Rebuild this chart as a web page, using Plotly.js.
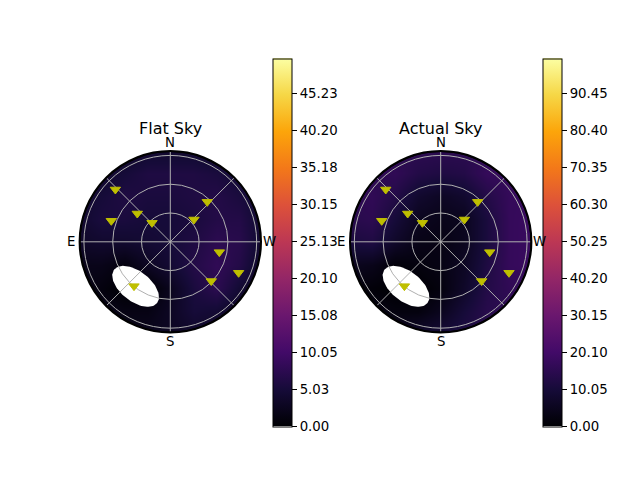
<!DOCTYPE html>
<html><head><meta charset="utf-8">
<script src="https://cdn.plot.ly/plotly-3.0.1.min.js"></script>
<style>html,body{margin:0;padding:0;background:#fff}</style>
</head><body><div id="chart" style="width:640px;height:480px"></div>
<script>
// ---------------- data ----------------
const panelTitles = ['Flat Sky', 'Actual Sky'];
const compassLabels = ['N', 'E', 'S', 'W'];
const compassAngles = [0, 90, 180, 270];
const gridAngles = [0, 45, 90, 135, 180, 225, 270, 315];
const zenithGrid = [20, 40, 60];
const zenithMax = 63;

// sky brightness sampled on a coarse grid (x: west positive, y: north positive), rows top -> bottom
const gridX = [-64, -48, -32, -16, 0, 16, 32, 48, 64];
const gridY = [64, 48, 32, 16, 0, -16, -32, -48, -64];
const flatSky = [
  [3, 3, 3, 4, 4, 4, 3, 3, 3],
  [3, 4, 5, 6, 6, 6, 5.5, 4.5, 3],
  [4, 5, 6, 5.5, 5.5, 6, 6.5, 5.5, 4],
  [4, 5.5, 5.5, 5, 5, 5.5, 6.5, 6.5, 4],
  [3.5, 4, 4, 4.5, 5, 6, 7.5, 7, 4],
  [2, 2, 1, 3, 4.5, 6.5, 8, 6.5, 3],
  [2, 1, 0, 0, 2.5, 5.5, 7.5, 4.5, 2],
  [2, 2, 1.5, 1.5, 3, 5, 4.5, 3, 2],
  [2, 2, 2, 2.5, 3, 3.5, 3, 2, 2]
];
const actualSky = [
  [12, 13, 14, 15, 15, 15, 15, 14, 13],
  [14, 15, 16, 13, 12, 13, 17, 17, 16],
  [15, 16, 13, 8, 6, 8, 13, 17, 17],
  [14, 15, 10, 5, 4, 5, 11, 17, 18],
  [11, 12, 7, 3.5, 3, 5, 11, 17, 18],
  [5, 4, 1, 2, 3, 6, 12, 17, 18],
  [2, 1, 0, 0, 2, 7, 13, 16, 16],
  [3, 3, 2, 2, 5, 10, 14, 15, 14],
  [5, 5, 6, 8, 10, 12, 13, 13, 12]
];
const flatMax = 50;
const actualMax = 100;
const flatTicks = [0, 5.03, 10.05, 15.08, 20.10, 25.13, 30.15, 35.18, 40.20, 45.23];
const flatTickText = ['0.00', '5.03', '10.05', '15.08', '20.10', '25.13', '30.15', '35.18', '40.20', '45.23'];
const actualTicks = [0, 10.05, 20.10, 30.15, 40.20, 50.25, 60.30, 70.35, 80.40, 90.45];
const actualTickText = ['0.00', '10.05', '20.10', '30.15', '40.20', '50.25', '60.30', '70.35', '80.40', '90.45'];

// targets (azimuth deg from N through E, zenith distance deg)
const starAz = [46.4, 70.4, 49.4, 43.9, 313.3, 317.2, 258.1, 245.6, 226.2, 140.7];
const starZen = [52.7, 43.5, 30.2, 18.3, 22.6, 37.8, 34.8, 52.1, 39.4, 39.8];

// masked region (moon avoidance), in sky coordinates
const maskAz = 142.1;
const maskZen = 39.2;
const maskTangentialHalf = 18.9;
const maskRadialHalf = 10.4;

// inferno colour map
const inferno = [
  [0.0, '#000004'], [0.1, '#160b39'], [0.2, '#420a68'], [0.3, '#6a176e'],
  [0.4, '#932667'], [0.5, '#bc3754'], [0.6, '#dd513a'], [0.7, '#f37819'],
  [0.8, '#fca50a'], [0.9, '#f6d746'], [1.0, '#fcffa4']
];

// ---------------- layout geometry ----------------
const W = 640, H = 480;
const centersPx = [[170.3, 241.8], [440.7, 241.8]];
const radiusPx = 90.7;
const cbLeftPx = [272.7, 542.7];
const cbTopPx = 58.3, cbBottomPx = 426.7;
const FONT = 'DejaVu Sans, sans-serif';
// compass label offsets from disk centre (px): N, E, S, W
const compassOffsets = [[0, -99.4], [-99.3, 0.1], [0, 99.2], [99, 0.1]];

function toXY(az, zen) {
  const a = az * Math.PI / 180;
  return [-zen * Math.sin(a), zen * Math.cos(a)];
}

function maskOutline() {
  const [cx, cy] = toXY(maskAz, maskZen);
  const rlen = Math.hypot(cx, cy);
  const ux = cx / rlen, uy = cy / rlen;          // radial unit
  const tx = -uy, ty = ux;                        // tangential unit
  const xs = [], ys = [];
  for (let i = 0; i <= 96; i++) {
    const t = i / 96 * 2 * Math.PI;
    const p = maskTangentialHalf * Math.cos(t), q = maskRadialHalf * Math.sin(t);
    xs.push(cx + p * tx + q * ux);
    ys.push(cy + p * ty + q * uy);
  }
  return [xs, ys];
}

// white frame around the disk, in paper coordinates
function ringMaskPath(cxp, cyp, rPx, extPx) {
  const px = v => (v / W).toFixed(6);
  const py = v => ((H - v) / H).toFixed(6);
  const s = rPx + extPx, k = 0.5523 * rPx, r = rPx;
  const P = (dx, dy) => `${px(cxp + dx)},${py(cyp + dy)}`;
  return `M ${P(-s, -s)} L ${P(s, -s)} L ${P(s, s)} L ${P(-s, s)} Z ` +
    `M ${P(r, 0)} C ${P(r, k)} ${P(k, r)} ${P(0, r)} C ${P(-k, r)} ${P(-r, k)} ${P(-r, 0)} ` +
    `C ${P(-r, -k)} ${P(-k, -r)} ${P(0, -r)} C ${P(k, -r)} ${P(r, -k)} ${P(r, 0)} Z`;
}

const yAsc = gridY.slice().reverse();
const skies = [flatSky, actualSky];
const maxes = [flatMax, actualMax];
const tickSets = [[flatTicks, flatTickText], [actualTicks, actualTickText]];
const [mx, my] = maskOutline();

const traces = [];
const layout = {
  width: W, height: H,
  margin: {l: 0, r: 0, t: 0, b: 0},
  paper_bgcolor: '#fff', plot_bgcolor: 'rgba(0,0,0,0)',
  showlegend: false,
  font: {family: FONT, size: 13.3, color: '#000'},
  shapes: [], annotations: []
};

for (let p = 0; p < 2; p++) {
  const sfx = p === 0 ? '' : '2';
  const [cxp, cyp] = centersPx[p];
  const dx = [(cxp - radiusPx) / W, (cxp + radiusPx) / W];
  const dy = [(H - cyp - radiusPx) / H, (H - cyp + radiusPx) / H];
  const z = skies[p].slice().reverse();
  traces.push({
    type: 'heatmap', x: gridX, y: yAsc, z: z, zsmooth: 'best',
    xaxis: 'x' + sfx, yaxis: 'y' + sfx,
    colorscale: inferno, zmin: 0, zmax: maxes[p], hoverinfo: 'skip',
    colorbar: {
      x: cbLeftPx[p] / W, xanchor: 'left', xpad: 0, ypad: 0,
      y: (H - (cbTopPx + cbBottomPx) / 2) / H, yanchor: 'middle',
      len: cbBottomPx - cbTopPx, lenmode: 'pixels',
      thickness: 19, thicknessmode: 'pixels',
      outlinecolor: '#000', outlinewidth: 1,
      ticks: 'outside', ticklen: 5, tickwidth: 1, tickcolor: '#000',
      tickmode: 'array', tickvals: tickSets[p][0], ticktext: tickSets[p][1],
      tickfont: {family: FONT, size: 13.3, color: '#000'}
    }
  });
  traces.push({
    type: 'scatter', x: mx, y: my, mode: 'lines', fill: 'toself',
    fillcolor: '#ffffff', line: {width: 0, color: '#ffffff'},
    xaxis: 'x' + sfx, yaxis: 'y' + sfx, hoverinfo: 'skip'
  });
  traces.push({
    type: 'scatterpolar', subplot: 'polar' + sfx,
    r: starZen, theta: starAz, mode: 'markers',
    marker: {symbol: 'triangle-down', size: 9, color: '#bfbf00', line: {width: 1, color: '#bfbf00'}},
    hoverinfo: 'skip'
  });
  layout['xaxis' + sfx] = {domain: dx, range: [-zenithMax, zenithMax], visible: false, fixedrange: true, anchor: 'y' + sfx};
  layout['yaxis' + sfx] = {domain: dy, range: [-zenithMax, zenithMax], visible: false, fixedrange: true, anchor: 'x' + sfx};
  layout['polar' + sfx] = {
    domain: {x: dx, y: dy},
    bgcolor: 'rgba(0,0,0,0)',
    angularaxis: {
      rotation: 90, direction: 'counterclockwise',
      tickmode: 'array', tickvals: gridAngles, showticklabels: false,
      ticks: '', showline: true, linecolor: '#000', linewidth: 2,
      gridcolor: '#b0b0b0', gridwidth: 1
    },
    radialaxis: {
      range: [0, zenithMax], tickmode: 'array', tickvals: zenithGrid,
      showticklabels: false, ticks: '', showline: false,
      gridcolor: '#b0b0b0', gridwidth: 1
    }
  };
  layout.shapes.push({
    type: 'path', xref: 'paper', yref: 'paper', layer: 'above',
    path: ringMaskPath(cxp, cyp, radiusPx, 2), fillcolor: '#ffffff',
    fillrule: 'evenodd', line: {width: 0}
  });
  layout.shapes.push({
    type: 'circle', xref: 'paper', yref: 'paper', layer: 'above',
    x0: (cxp - radiusPx) / W, x1: (cxp + radiusPx) / W,
    y0: (H - cyp - radiusPx) / H, y1: (H - cyp + radiusPx) / H,
    line: {color: '#000', width: 2}
  });
  layout.annotations.push({
    text: panelTitles[p], xref: 'paper', yref: 'paper',
    x: cxp / W, y: (H - 128) / H, xanchor: 'center', yanchor: 'middle',
    showarrow: false, font: {family: FONT, size: 16, color: '#000'}
  });
  for (let c = 0; c < compassLabels.length; c++) {
    const [ox, oy] = compassOffsets[c];
    layout.annotations.push({
      text: compassLabels[c], xref: 'paper', yref: 'paper',
      x: (cxp + ox) / W, y: (H - cyp - oy) / H, xanchor: 'center', yanchor: 'middle',
      showarrow: false, font: {family: FONT, size: 13.3, color: '#000'}
    });
  }
}

Plotly.newPlot('chart', traces, layout, {staticPlot: true, displayModeBar: false});
</script>
</body></html>
